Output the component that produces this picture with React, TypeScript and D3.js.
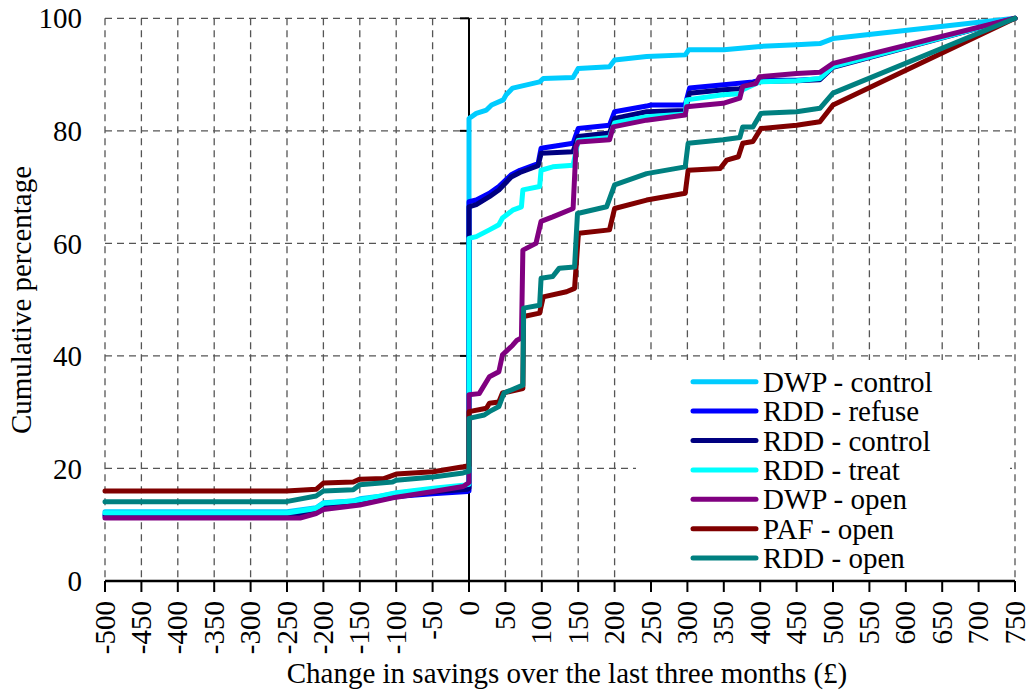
import React from "react";
import * as d3 from "d3";

type Pt = [number, number];

const seriesNames = [
  "DWP - control",
  "RDD - refuse",
  "RDD - control",
  "RDD - treat",
  "DWP - open",
  "PAF - open",
  "RDD - open",
];
const seriesColors = ["#00CCFF", "#0000FF", "#000080", "#00FFFF", "#800080", "#800000", "#008080"];

const dwpControl: Pt[] = [
  [-500, 12.3], [-250, 12.3], [-210, 13.0], [-200, 13.9], [-160, 14.2], [-150, 14.6], [-125, 15.0],
  [-100, 15.6], [-50, 16.3], [-5, 16.8], [0, 17], [0, 82.2], [10, 83.1], [24, 83.7], [31, 84.6],
  [47, 85.5], [51, 86.4], [60, 87.6], [97, 88.7], [102, 89.3], [143, 89.5], [150, 91.1], [193, 91.4],
  [200, 92.6], [244, 93.2], [297, 93.5], [302, 94.4], [350, 94.4], [400, 95.0], [450, 95.3],
  [482, 95.5], [500, 96.4], [750, 100],
];
const rddRefuse: Pt[] = [
  [-500, 11.8], [-250, 11.8], [-210, 12.5], [-200, 13.3], [-150, 13.8], [-100, 15.0], [-50, 15.5],
  [-2, 15.9], [0, 16], [0, 67.4], [10, 67.7], [28, 68.9], [41, 70.1], [58, 72.2], [70, 73.0],
  [95, 74.2], [99, 76.9], [143, 77.8], [150, 80.4], [193, 81.0], [200, 83.4], [244, 84.4],
  [250, 84.6], [297, 84.6], [303, 87.6], [350, 88.2], [390, 88.7], [400, 89.0], [450, 89.0],
  [482, 89.2], [500, 91.5], [750, 100],
];
const rddControl: Pt[] = [
  [-500, 11.5], [-250, 11.5], [-210, 12.3], [-200, 13.1], [-150, 13.7], [-100, 15.0], [-50, 15.8],
  [-2, 16.3], [0, 16.5], [0, 66.5], [10, 66.9], [28, 68.3], [41, 69.5], [58, 71.8], [70, 72.6],
  [95, 73.8], [99, 76.0], [143, 76.3], [150, 79.0], [193, 79.6], [200, 82.2], [244, 83.4],
  [297, 83.6], [303, 86.7], [350, 87.3], [372, 87.5], [390, 88.4], [400, 88.8], [450, 88.9],
  [482, 89.1], [500, 91.3], [750, 100],
];
const rddTreat: Pt[] = [
  [-500, 12.1], [-250, 12.1], [-210, 12.9], [-200, 13.8], [-159, 14.2], [-126, 15.0], [-100, 15.7],
  [-49, 16.5], [-8, 17.0], [0, 17.2], [0, 60.9], [10, 61.2], [28, 62.4], [41, 63.3], [46, 64.5],
  [60, 65.9], [72, 66.5], [74, 69.5], [97, 70.1], [99, 73.0], [115, 73.6], [143, 73.9], [150, 78.3],
  [193, 78.8], [200, 81.4], [244, 82.5], [297, 83.0], [299, 85.5], [349, 86.4], [372, 86.6],
  [376, 87.3], [399, 88.7], [450, 88.9], [482, 89.3], [500, 91.4], [750, 100],
];
const dwpOpen: Pt[] = [
  [-500, 11.2], [-232, 11.2], [-210, 12.0], [-200, 12.7], [-150, 13.5], [-100, 14.9], [-49, 15.9],
  [-8, 16.8], [0, 17.5], [0, 33.1], [14, 33.3], [28, 36.3], [41, 37.2], [46, 40.2], [60, 41.9],
  [66, 42.8], [72, 43.2], [74, 58.8], [92, 60.0], [99, 63.9], [115, 64.7], [143, 66.2], [147, 77.2],
  [150, 78.0], [193, 78.4], [198, 80.7], [244, 81.9], [297, 82.8], [299, 84.3], [349, 84.9],
  [372, 85.8], [376, 87.9], [394, 88.4], [399, 89.6], [450, 90.2], [482, 90.4], [500, 92.0], [750, 100],
];
const pafOpen: Pt[] = [
  [-500, 16.0], [-251, 16.0], [-210, 16.3], [-200, 17.4], [-159, 17.6], [-150, 18.1], [-117, 18.2],
  [-100, 19.0], [-49, 19.4], [-8, 20.3], [0, 20.5], [0, 30.1], [24, 30.7], [28, 31.6], [41, 31.8],
  [46, 33.4], [74, 34.2], [75, 47.0], [97, 47.6], [102, 50.5], [134, 51.4], [145, 52.0], [150, 61.2],
  [151, 61.8], [193, 62.4], [200, 66.2], [244, 67.7], [297, 68.9], [301, 73.0], [345, 73.3],
  [354, 74.8], [370, 75.4], [376, 77.8], [390, 78.1], [401, 80.4], [450, 81.0], [482, 81.6],
  [500, 84.6], [750, 100],
];
const rddOpen: Pt[] = [
  [-500, 14.1], [-251, 14.1], [-210, 15.1], [-200, 16.0], [-159, 16.2], [-150, 17.1], [-105, 17.6],
  [-100, 17.9], [-49, 18.5], [-8, 19.2], [0, 19.5], [0, 28.9], [21, 29.5], [28, 30.1], [41, 31.0],
  [48, 33.4], [74, 34.8], [75, 48.5], [97, 49.0], [99, 53.8], [115, 54.1], [124, 55.6], [145, 55.8],
  [149, 65.3], [189, 66.5], [200, 70.4], [244, 72.4], [297, 73.6], [301, 77.8], [349, 78.4],
  [372, 78.8], [376, 80.7], [390, 80.7], [401, 83.1], [450, 83.4], [482, 84.0], [500, 86.7], [750, 100],
];
const seriesData: Pt[][] = [dwpControl, rddRefuse, rddControl, rddTreat, dwpOpen, pafOpen, rddOpen];

const xTicks = d3.range(-500, 751, 50);
const yTicks = [0, 20, 40, 60, 80, 100];
const xTitle = "Change in savings over the last three months (£)";
const yTitle = "Cumulative percentage";

const W = 1031;
const H = 695;
const FS = 29;

export default function App() {
  const x = d3.scaleLinear().domain([-500, 750]).range([105, 1015]);
  const y = d3.scaleLinear().domain([0, 100]).range([581, 18.3]);
  const line = d3
    .line<Pt>()
    .x((d) => x(d[0]))
    .y((d) => y(d[1]));
  const gridColor = "#555";
  const dash = "7 5";
  const legX = 636;
  const legY = 360;
  const sY = { fontFamily: '"Tinos"', fontSize: FS };
  const sX = { fontFamily: '"Times New Roman"', fontSize: FS };
  const sT = { fontFamily: '"Nimbus Roman"', fontSize: FS };
  const sL = { fontFamily: '"Liberation Serif"', fontSize: FS };
  return (
    <svg width={W} height={H} style={{ position: "absolute", left: 0, top: 0 }}>
      <rect x={0} y={0} width={W} height={H} fill="#fff" />
      {yTicks
        .filter((t) => t !== 0)
        .map((t) => (
          <line key={"gy" + t} x1={x(-500)} x2={x(750)} y1={y(t)} y2={y(t)} stroke={gridColor} strokeWidth={1.3} strokeDasharray={dash} />
        ))}
      {xTicks
        .filter((t) => t !== 0)
        .map((t) => (
          <line key={"gx" + t} x1={x(t)} x2={x(t)} y1={y(100)} y2={y(0)} stroke={gridColor} strokeWidth={1.3} strokeDasharray={dash} />
        ))}
      <line x1={x(0)} x2={x(0)} y1={y(100)} y2={y(0)} stroke="#000" strokeWidth={2} />
      {yTicks.map((t) => (
        <line key={"yt" + t} x1={x(0) - 9} x2={x(0)} y1={y(t)} y2={y(t)} stroke="#000" strokeWidth={2} />
      ))}
      {seriesData.map((s, i) => (
        <path
          key={"s" + i}
          d={line(s) || ""}
          fill="none"
          stroke={seriesColors[i]}
          strokeWidth={5}
          strokeLinejoin="round"
          strokeLinecap="round"
        />
      ))}
      <line x1={x(-500)} x2={x(750)} y1={y(0)} y2={y(0)} stroke="#000" strokeWidth={2.5} />
      {xTicks.map((t) => (
        <line key={"xt" + t} x1={x(t)} x2={x(t)} y1={y(0)} y2={y(0) + 11} stroke="#000" strokeWidth={2} />
      ))}
      {xTicks.map((t) => (
        <text key={"xl" + t} transform={`translate(${x(t)},601) rotate(-90)`} dy="0.33em" textAnchor="end" style={sX}>
          {t}
        </text>
      ))}
      {yTicks.map((t) => (
        <text key={"yl" + t} x={82} y={y(t)} dy="0.35em" textAnchor="end" style={sY}>
          {t}
        </text>
      ))}
      <text x={567} y={683} textAnchor="middle" style={sT}>
        {xTitle}
      </text>
      <text transform="translate(31,300) rotate(-90)" textAnchor="middle" style={sT}>
        {yTitle}
      </text>
      <rect x={legX} y={legY} width={374} height={218} fill="#fff" />
      {seriesNames.map((n, i) => {
        const cy = 381.7 + i * 29.4;
        return (
          <g key={"lg" + i}>
            <line x1={693} x2={756} y1={cy} y2={cy} stroke={seriesColors[i]} strokeWidth={5} strokeLinecap="round" />
            <text x={763} y={cy} dy="0.35em" style={sL}>
              {n}
            </text>
          </g>
        );
      })}
    </svg>
  );
}
